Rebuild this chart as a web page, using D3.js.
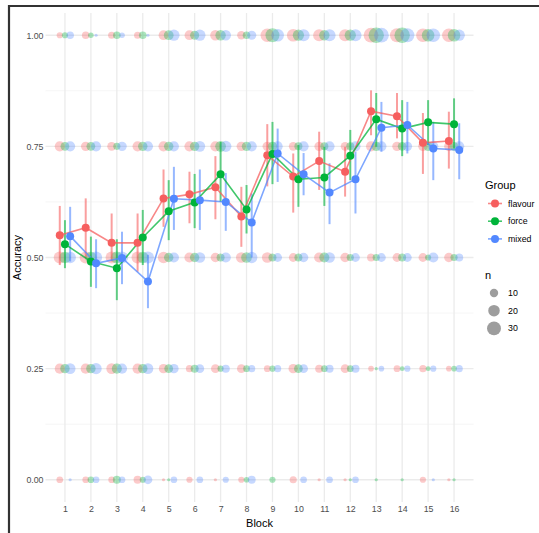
<!DOCTYPE html>
<html>
<head>
<meta charset="utf-8">
<script src="https://cdn.jsdelivr.net/npm/d3@7"></script>
<style>
  html, body { margin: 0; padding: 0; background: #fff; }
  svg { display: block; font-family: "Liberation Sans", Arial, sans-serif; }
</style>
</head>
<body>
<svg id="chart" width="539" height="533"></svg>
<script>
// Blocks and groups
const blocks = d3.range(1, 17);
const groups = ["flavour", "force", "mixed"];
const groupColors = ["#F65F5F", "#00B43A", "#5288FF"];
const accuracyLevels = [0, 0.25, 0.5, 0.75, 1];
const yTickLabels = ["0.00", "0.25", "0.50", "0.75", "1.00"];
const sizeLegendValues = [10, 20, 30];

// Number of participants at each accuracy level, per block
const flavourN000 = [6, 6, 6, 9, 1, 5, 1, 5, 0, 7, 1, 1, 0, 0, 5, 1];
const flavourN025 = [15, 15, 17, 15, 13, 7, 11, 11, 6, 13, 9, 11, 4, 6, 7, 4];
const flavourN050 = [22, 22, 22, 22, 19, 15, 13, 17, 17, 11, 15, 13, 9, 11, 11, 13];
const flavourN075 = [15, 13, 11, 15, 15, 15, 15, 13, 13, 11, 13, 11, 15, 13, 13, 13];
const flavourN100 = [5, 8, 7, 7, 14, 14, 16, 10, 28, 24, 22, 22, 34, 30, 28, 28];

const forceN000 = [0, 6, 9, 5, 1, 0, 0, 4, 5, 0, 0, 1, 1, 1, 0, 1];
const forceN025 = [13, 13, 15, 13, 11, 9, 5, 6, 5, 11, 6, 6, 1, 3, 3, 4];
const forceN050 = [20, 20, 22, 20, 13, 13, 9, 17, 9, 9, 15, 7, 7, 9, 5, 7];
const forceN075 = [11, 11, 7, 13, 13, 13, 17, 13, 13, 9, 9, 9, 13, 11, 13, 11];
const forceN100 = [5, 4, 8, 8, 14, 12, 16, 8, 30, 19, 16, 19, 37, 37, 24, 24];

const mixedN000 = [1, 6, 6, 11, 6, 6, 5, 9, 0, 6, 6, 6, 0, 0, 1, 0];
const mixedN025 = [17, 19, 15, 17, 13, 11, 9, 7, 7, 11, 9, 9, 4, 5, 5, 7];
const mixedN050 = [20, 22, 22, 22, 15, 17, 15, 19, 11, 13, 17, 11, 11, 11, 15, 9];
const mixedN075 = [15, 15, 13, 15, 15, 17, 19, 15, 15, 15, 15, 15, 15, 13, 15, 15];
const mixedN100 = [8, 1, 4, 1, 19, 19, 16, 12, 24, 22, 22, 22, 34, 30, 28, 19];

// Mean accuracy per block with error-bar limits
const flavourMean = [0.550, 0.567, 0.533, 0.533, 0.633, 0.642, 0.658, 0.592, 0.730, 0.682, 0.717, 0.693, 0.829, 0.818, 0.758, 0.762];
const flavourLow  = [0.483, 0.498, 0.491, 0.468, 0.569, 0.577, 0.586, 0.524, 0.660, 0.601, 0.652, 0.637, 0.775, 0.768, 0.688, 0.700];
const flavourHigh = [0.616, 0.633, 0.599, 0.599, 0.698, 0.693, 0.728, 0.659, 0.800, 0.734, 0.783, 0.749, 0.876, 0.870, 0.825, 0.828];

const forceMean = [0.530, 0.491, 0.476, 0.545, 0.604, 0.624, 0.687, 0.608, 0.733, 0.676, 0.680, 0.729, 0.811, 0.790, 0.804, 0.800];
const forceLow  = [0.476, 0.434, 0.404, 0.483, 0.539, 0.566, 0.625, 0.554, 0.665, 0.614, 0.616, 0.674, 0.749, 0.728, 0.753, 0.745];
const forceHigh = [0.584, 0.547, 0.541, 0.607, 0.674, 0.688, 0.760, 0.663, 0.805, 0.753, 0.749, 0.787, 0.870, 0.854, 0.854, 0.858];

const mixedMean = [0.548, 0.487, 0.499, 0.446, 0.632, 0.629, 0.625, 0.579, 0.734, 0.687, 0.646, 0.676, 0.792, 0.798, 0.745, 0.742];
const mixedLow  = [0.491, 0.431, 0.440, 0.386, 0.562, 0.562, 0.560, 0.500, 0.670, 0.640, 0.575, 0.599, 0.738, 0.734, 0.674, 0.676];
const mixedHigh = [0.614, 0.541, 0.558, 0.506, 0.704, 0.698, 0.690, 0.644, 0.790, 0.735, 0.712, 0.738, 0.850, 0.850, 0.805, 0.802];

// Assemble per-group tables
const countsByGroup = [
  [flavourN000, flavourN025, flavourN050, flavourN075, flavourN100],
  [forceN000, forceN025, forceN050, forceN075, forceN100],
  [mixedN000, mixedN025, mixedN050, mixedN075, mixedN100]
];
const summaryByGroup = [
  [flavourMean, flavourLow, flavourHigh],
  [forceMean, forceLow, forceHigh],
  [mixedMean, mixedLow, mixedHigh]
];

const dots = [];
groups.forEach((g, gi) => {
  accuracyLevels.forEach((a, ai) => {
    blocks.forEach((b, bi) => {
      const n = countsByGroup[gi][ai][bi];
      if (n > 0) dots.push({ group: g, gi, block: b, acc: a, n });
    });
  });
});

const summaries = groups.map((g, gi) => ({
  group: g, gi,
  values: blocks.map((b, bi) => ({
    block: b,
    mean: summaryByGroup[gi][0][bi],
    low: summaryByGroup[gi][1][bi],
    high: summaryByGroup[gi][2][bi]
  }))
}));

// Scales
const svg = d3.select("#chart");
const panel = { left: 45.5, right: 473.5, top: 13, bottom: 502 };

const x = d3.scaleLinear().domain([0.25, 16.75]).range([panel.left, panel.right]);
const y = d3.scaleLinear().domain([-0.05, 1.05]).range([panel.bottom, panel.top]);
const color = d3.scaleOrdinal().domain(groups).range(groupColors);
const dodge = d3.scalePoint().domain(groups).range([-0.2, 0.2]);
const size = d3.scaleSqrt().domain([1, 36]).range([1.6, 7.6]);

// Frame around the figure
svg.append("path")
  .attr("d", "M9,533 V6 H539")
  .attr("fill", "none")
  .attr("stroke", "#333")
  .attr("stroke-width", 2.2);

// Grid
const grid = svg.append("g");
const minorY = [0.125, 0.375, 0.625, 0.875];
grid.selectAll("line.minor").data(minorY).join("line")
  .attr("x1", panel.left).attr("x2", panel.right)
  .attr("y1", d => y(d)).attr("y2", d => y(d))
  .attr("stroke", "#F3F3F3").attr("stroke-width", 0.8);
grid.selectAll("line.hmajor").data(accuracyLevels).join("line")
  .attr("x1", panel.left).attr("x2", panel.right)
  .attr("y1", d => y(d)).attr("y2", d => y(d))
  .attr("stroke", "#EBEBEB").attr("stroke-width", 1.3);
grid.selectAll("line.vmajor").data(blocks).join("line")
  .attr("y1", panel.top).attr("y2", panel.bottom)
  .attr("x1", d => x(d)).attr("x2", d => x(d))
  .attr("stroke", "#EBEBEB").attr("stroke-width", 1.3);

// Axes (text only, no axis lines)
const yAxis = svg.append("g")
  .attr("transform", `translate(${panel.left - 2},0)`)
  .call(d3.axisLeft(y).tickValues(accuracyLevels).tickSize(0).tickPadding(0)
    .tickFormat((d, i) => yTickLabels[i]));
yAxis.select(".domain").remove();
yAxis.selectAll("text").attr("fill", "#4D4D4D").attr("font-size", 8.8)
  .attr("font-family", "Liberation Sans, Arial, sans-serif");

const xAxis = svg.append("g")
  .attr("transform", `translate(0,${panel.bottom + 3})`)
  .call(d3.axisBottom(x).tickValues(blocks).tickSize(0).tickPadding(1)
    .tickFormat(d3.format("d")));
xAxis.select(".domain").remove();
xAxis.selectAll("text").attr("fill", "#4D4D4D").attr("font-size", 8.8)
  .attr("font-family", "Liberation Sans, Arial, sans-serif");

svg.append("text")
  .attr("x", (panel.left + panel.right) / 2).attr("y", 527)
  .attr("text-anchor", "middle").attr("font-size", 11).attr("fill", "#000")
  .text("Block");
svg.append("text")
  .attr("transform", `translate(21,${(panel.top + panel.bottom) / 2}) rotate(-90)`)
  .attr("text-anchor", "middle").attr("font-size", 11).attr("fill", "#000")
  .text("Accuracy");

// Individual counts at each accuracy level
svg.append("g").selectAll("circle").data(dots).join("circle")
  .attr("cx", d => x(d.block + dodge(d.group)))
  .attr("cy", d => y(d.acc))
  .attr("r", d => size(d.n))
  .attr("fill", d => color(d.group))
  .attr("fill-opacity", 0.33);

// Error bars
const summaryLayer = svg.append("g");
summaries.forEach(s => {
  summaryLayer.append("g").selectAll("line").data(s.values).join("line")
    .attr("x1", d => x(d.block + dodge(s.group)))
    .attr("x2", d => x(d.block + dodge(s.group)))
    .attr("y1", d => y(d.low)).attr("y2", d => y(d.high))
    .attr("stroke", color(s.group)).attr("stroke-width", 2)
    .attr("stroke-opacity", 0.6);
});

// Mean lines
const line = d3.line()
  .x(d => x(d.block + d.off))
  .y(d => y(d.mean));
summaries.forEach(s => {
  summaryLayer.append("path")
    .datum(s.values.map(v => ({ ...v, off: dodge(s.group) })))
    .attr("d", line)
    .attr("fill", "none")
    .attr("stroke", color(s.group)).attr("stroke-width", 1.6)
    .attr("stroke-opacity", 0.75);
});

// Mean points
summaries.forEach(s => {
  summaryLayer.append("g").selectAll("circle").data(s.values).join("circle")
    .attr("cx", d => x(d.block + dodge(s.group)))
    .attr("cy", d => y(d.mean))
    .attr("r", 4)
    .attr("fill", color(s.group));
});

// Legend: Group
const legend = svg.append("g");
legend.append("text").attr("x", 485).attr("y", 189)
  .attr("font-size", 11).attr("fill", "#000").text("Group");
groups.forEach((g, i) => {
  const cy = 203.5 + i * 17.7;
  legend.append("line").attr("x1", 488).attr("x2", 502).attr("y1", cy).attr("y2", cy)
    .attr("stroke", color(g)).attr("stroke-width", 1.6).attr("stroke-opacity", 0.75);
  legend.append("circle").attr("cx", 495).attr("cy", cy).attr("r", 4).attr("fill", color(g));
  legend.append("text").attr("x", 508).attr("y", cy + 3)
    .attr("font-size", 8.8).attr("fill", "#000").text(g);
});

// Legend: n
legend.append("text").attr("x", 485).attr("y", 279)
  .attr("font-size", 11).attr("fill", "#000").text("n");
sizeLegendValues.forEach((v, i) => {
  const cy = 293 + i * 17.7;
  legend.append("circle").attr("cx", 494).attr("cy", cy).attr("r", size(v))
    .attr("fill", "#8C8C8C").attr("fill-opacity", 0.85);
  legend.append("text").attr("x", 508).attr("y", cy + 3)
    .attr("font-size", 8.8).attr("fill", "#000").text(v);
});
</script>
</body>
</html>
